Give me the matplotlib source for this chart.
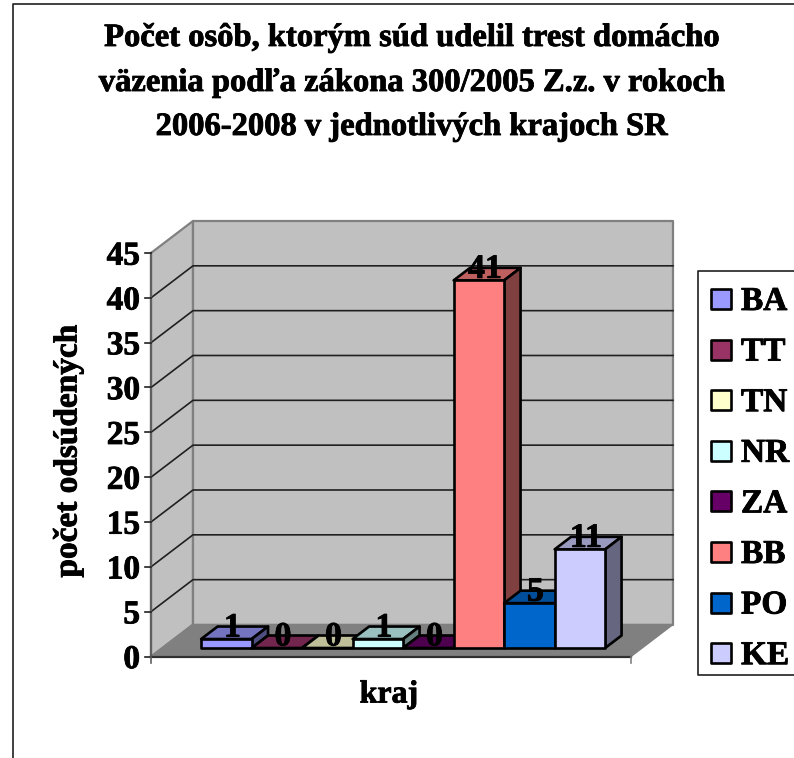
import matplotlib
matplotlib.use("agg")
import matplotlib.pyplot as plt
import matplotlib.patheffects as pe
from matplotlib.patches import Polygon

regions = ["BA", "TT", "TN", "NR", "ZA", "BB", "PO", "KE"]
counts = [1, 0, 0, 1, 0, 41, 5, 11]
colors = ["#9999FF", "#993366", "#FFFFCC", "#CCFFFF", "#660066", "#FF8080", "#0066CC", "#CCCCFF"]
yticks = [0, 5, 10, 15, 20, 25, 30, 35, 40, 45]

title_lines = ["Počet osôb, ktorým súd udelil trest domácho",
               "väzenia podľa zákona 300/2005 Z.z. v rokoch",
               "2006-2008 v jednotlivých krajoch SR"]

plt.rcParams["font.family"] = ["Liberation Serif", "DejaVu Serif"]
plt.rcParams["font.weight"] = "bold"

W, H = 794, 758
slot = 50.5      # px per category
unit = 8.967     # px per count
x0_px, y0_px = 190, 656.5
# depth of the box, in data units
DX, DY = 42 / slot, 32 / unit

fig = plt.figure(figsize=(W / 100, H / 100), dpi=100)
ax = fig.add_axes([0, 0, 1, 1])
ax.set_xlim(-x0_px / slot, (W - x0_px) / slot)
ax.set_ylim((y0_px - H) / unit, y0_px / unit)
ax.axis("off")

xl, xr = -39 / slot, 441 / slot  # floor front edge
ytop = yticks[-1]
heavy = [pe.withStroke(linewidth=0.6, foreground="black")]


def px(p):
    return p / slot


def fx(p):
    return (p - x0_px) / slot


def fy(p):
    return (y0_px - p) / unit


def pj(x, y, d=0):
    return (x + d * DX, y + d * DY)


def shade(c, f):
    r, g, b = matplotlib.colors.to_rgb(c)
    return (r * f, g * f, b * f)


def poly(points, fc, ec, lw, z=1):
    ax.add_patch(Polygon(points, closed=True, fc=fc, ec=ec, lw=lw, joinstyle="round", zorder=z))


def label(x, y, s, size, z=7, **kw):
    ax.text(x, y, s, fontsize=size, zorder=z, path_effects=heavy, **kw)


# outer chart frame
ax.plot([fx(12.5), fx(12.5), fx(800)], [fy(758), fy(4.5), fy(4.5)], color="#202020", lw=1.2, zorder=1)

# walls and floor
wall = "#C0C0C0"
edge = "#808080"
poly([pj(xl, 0), pj(xl, ytop), pj(xl, ytop, 1), pj(xl, 0, 1)], wall, edge, 1.6)
poly([pj(xl, 0, 1), pj(xl, ytop, 1), pj(xr, ytop, 1), pj(xr, 0, 1)], wall, edge, 1.6)
poly([pj(xl, 0), pj(xl, 0, 1), pj(xr, 0, 1), pj(xr, 0)], "#808080", "#808080", 1, z=2)

# gridlines on both walls
for t in yticks[1:-1]:
    a, b, c = pj(xl, t), pj(xl, t, 1), pj(xr, t, 1)
    ax.plot([a[0], b[0], c[0]], [a[1], b[1], c[1]], color="#202020", lw=1.2, zorder=2)

# axis lines and tick marks
ax.plot([xl, xl], [0, ytop], color="#606060", lw=1.6, zorder=3)
ax.plot([xl, xr], [0, 0], color="#303030", lw=1.6, zorder=3)
for t in yticks:
    ax.plot([xl - px(6), xl], [t, t], color="#202020", lw=1.2, zorder=3)
    label(xl - px(11), t - 1.3, str(t), 24, ha="right", va="baseline")
ax.plot([xl, xl], [0, -6 / unit], color="#606060", lw=1.2, zorder=3)
ax.plot([xr, xr], [0, -6 / unit], color="#808080", lw=1.2, zorder=3)

# bars, front plane offset inside the box
d1, d2 = 8.5 / 32, 21 / 32
for i, (v, c) in enumerate(zip(counts, colors)):
    z = 4 + i * 0.01
    poly([pj(i, v, d1), pj(i, v, d2), pj(i + 1, v, d2), pj(i + 1, v, d1)], shade(c, 0.75), "black", 1.9, z)
    poly([pj(i + 1, 0, d1), pj(i + 1, v, d1), pj(i + 1, v, d2), pj(i + 1, 0, d2)], shade(c, 0.5), "black", 1.9, z)
    poly([pj(i, 0, d1), pj(i, v, d1), pj(i + 1, v, d1), pj(i + 1, 0, d1)], c, "black", 1.9, z)

# value labels
for i, v in enumerate(counts):
    lx, ly = pj(i + 0.5, v, d1)
    label(lx + px(6), ly + 2.5 / unit, str(v), 24.5, ha="center", va="baseline")

# title and axis labels
for line, base in zip(title_lines, [46, 91, 135]):
    label(fx(411.5), fy(base), line, 23.45, ha="center", va="baseline")
label(fx(68), fy(451), "počet odsúdených", 24, rotation=90, ha="center", va="center")
label(fx(389), fy(695), "kraj", 23, ha="center", va="center")

# legend box runs off the right edge
poly([(fx(698), fy(271)), (fx(800), fy(271)), (fx(800), fy(675)), (fx(698), fy(675))],
     "white", "#202020", 1.2, z=5)
for i, (name, c) in enumerate(zip(regions, colors)):
    cy = 299 + i * 50.6
    poly([(fx(711), fy(cy - 10)), (fx(731), fy(cy - 10)), (fx(731), fy(cy + 10)), (fx(711), fy(cy + 10))],
         c, "black", 1.9, z=6)
    label(fx(741), fy(cy + 11), name, 24, ha="left", va="baseline")

fig.savefig("out.png", dpi=100)
